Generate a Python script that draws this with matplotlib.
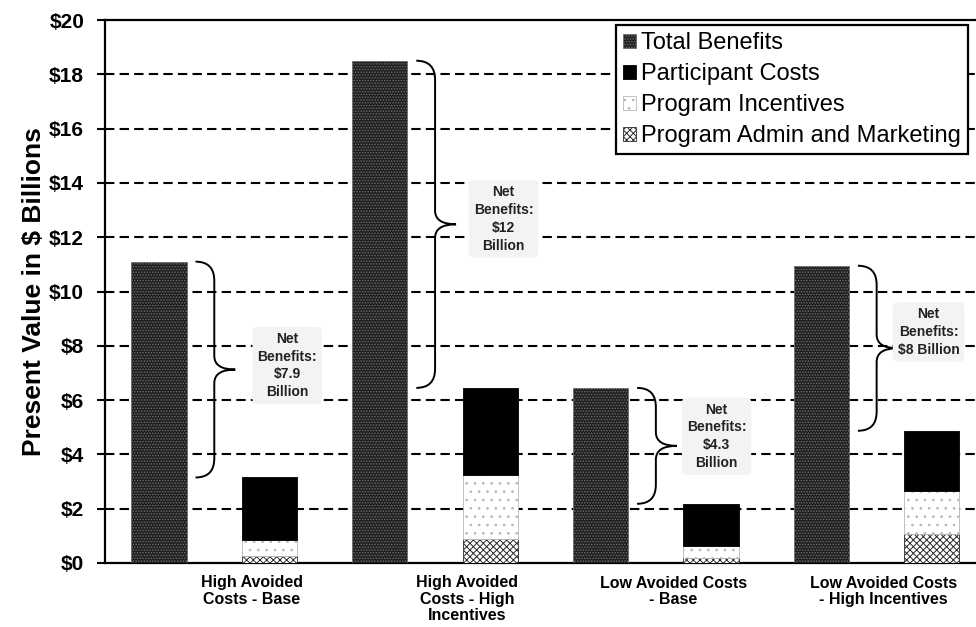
import numpy as np
import matplotlib
matplotlib.use("Agg")
import matplotlib.pyplot as plt
from matplotlib.path import Path
from matplotlib.patches import PathPatch

plt.rcParams['font.family'] = ['Liberation Sans', 'DejaVu Sans']
plt.rcParams['hatch.linewidth'] = 0.7

# data ($ billions, present value)
categories = ["High Avoided\nCosts - Base",
              "High Avoided\nCosts - High\nIncentives",
              "Low Avoided Costs\n- Base",
              "Low Avoided Costs\n- High Incentives"]
total_benefits = [11.1, 18.5, 6.45, 10.95]
admin_marketing = [0.25, 0.9, 0.2, 1.07]
program_incentives = [0.6, 2.35, 0.42, 1.6]
participant_costs = [2.3, 3.2, 1.56, 2.2]
net_labels = ["Net\nBenefits:\n$7.9\nBillion",
              "Net\nBenefits:\n$12\nBillion",
              "Net\nBenefits:\n$4.3\nBillion",
              "Net\nBenefits:\n$8 Billion"]
yticks = [0, 2, 4, 6, 8, 10, 12, 14, 16, 18, 20]

fig = plt.figure(figsize=(9.76, 6.27), dpi=100)
ax = fig.add_axes([105/976, 1-563/627, 871/976, 543/627])

n = len(categories)
xb = np.arange(n) * 2.0
xc = xb + 1
w = 0.5

admin = np.array(admin_marketing)
inc = np.array(program_incentives)
part = np.array(participant_costs)
costs_top = admin + inc + part

b1 = ax.bar(xb, total_benefits, w, color='#1f1f1f', edgecolor='#6e6e6e', hatch='......',
            linewidth=0.6, zorder=3, label='Total Benefits')
b4 = ax.bar(xc, admin, w, color='white', edgecolor='#2a2a2a', hatch='xxxxx',
            linewidth=0.6, zorder=3, label='Program Admin and Marketing')
b3 = ax.bar(xc, inc, w, bottom=admin, color='white', edgecolor='#b8b8b8', hatch='..',
            linewidth=0.6, zorder=3, label='Program Incentives')
b2 = ax.bar(xc, part, w, bottom=admin + inc, color='black', edgecolor='black',
            linewidth=0.6, zorder=3, label='Participant Costs')

# dashed grid lines
for yv in yticks[1:-1]:
    ax.axhline(yv, color='black', lw=1.5, dashes=(4.5, 2.5), zorder=1)


def brace(x0, y_top, y_bot):
    x1 = x0 + 0.17
    x2 = x0 + 0.36
    ym = (y_top + y_bot) / 2
    r = min(0.7, (y_top - y_bot) / 5)
    r2 = min(0.5, (y_top - y_bot) / 6)
    verts = [(x0, y_top), (x1, y_top), (x1, y_top - r),
             (x1, ym + r2),
             (x1, ym), (x2, ym),
             (x1, ym), (x1, ym - r2),
             (x1, y_bot + r),
             (x1, y_bot), (x0, y_bot)]
    codes = [Path.MOVETO, Path.CURVE3, Path.CURVE3,
             Path.LINETO,
             Path.CURVE3, Path.CURVE3,
             Path.CURVE3, Path.CURVE3,
             Path.LINETO,
             Path.CURVE3, Path.CURVE3]
    ax.add_patch(PathPatch(Path(verts, codes), fill=False, lw=1.4,
                           edgecolor='black', zorder=4))


text_dx = [1.16, 1.12, 1.05, 0.97]
text_dy = [0.15, 0.2, 0.35, 0.6]
for i in range(n):
    brace(xb[i] + w / 2 + 0.08, total_benefits[i], costs_top[i])
    mid = (total_benefits[i] + costs_top[i]) / 2
    ax.text(xb[i] + text_dx[i], mid + text_dy[i], net_labels[i], ha='center', va='center',
            fontsize=10, fontweight='bold', color='#222222', linespacing=1.35, zorder=5,
            bbox=dict(boxstyle='round,pad=0.35', facecolor='#f3f3f3', edgecolor='none'))

label_shift = [0.34, 0.29, 0.16, 0.06]
ax.set_xticks(xb + 0.5 + np.array(label_shift))
ax.set_xticklabels(categories, fontsize=11.5, fontweight='bold', linespacing=1.12)
ax.tick_params(axis='x', length=0, pad=9)

ax.set_yticks(yticks)
ax.set_yticklabels(['$%d' % v for v in yticks], fontsize=15, fontweight='bold')
ax.tick_params(axis='y', direction='out', length=6, width=1.5, pad=9)
ax.set_ylim(0, 20)
ax.set_xlim(-0.49, 7.4)
ax.set_ylabel('Present Value in $ Billions', fontsize=19, fontweight='bold')
ax.yaxis.set_label_coords(-0.068, 0.5)

for s in ['left', 'top', 'bottom']:
    ax.spines[s].set_linewidth(1.6)
ax.spines['right'].set_visible(False)

leg = ax.legend(handles=[b1, b2, b3, b4], loc='upper right',
                bbox_to_anchor=((968-105)/871, 1 - 5/543), borderaxespad=0,
                prop={'size': 17}, frameon=True, fancybox=False, framealpha=1,
                handlelength=0.55, handleheight=0.55, handletextpad=0.2,
                labelspacing=0.38, borderpad=0.3)
leg.get_frame().set_edgecolor('black')
leg.get_frame().set_linewidth(1.6)
leg.set_zorder(6)

fig.savefig('out.png', dpi=100)
